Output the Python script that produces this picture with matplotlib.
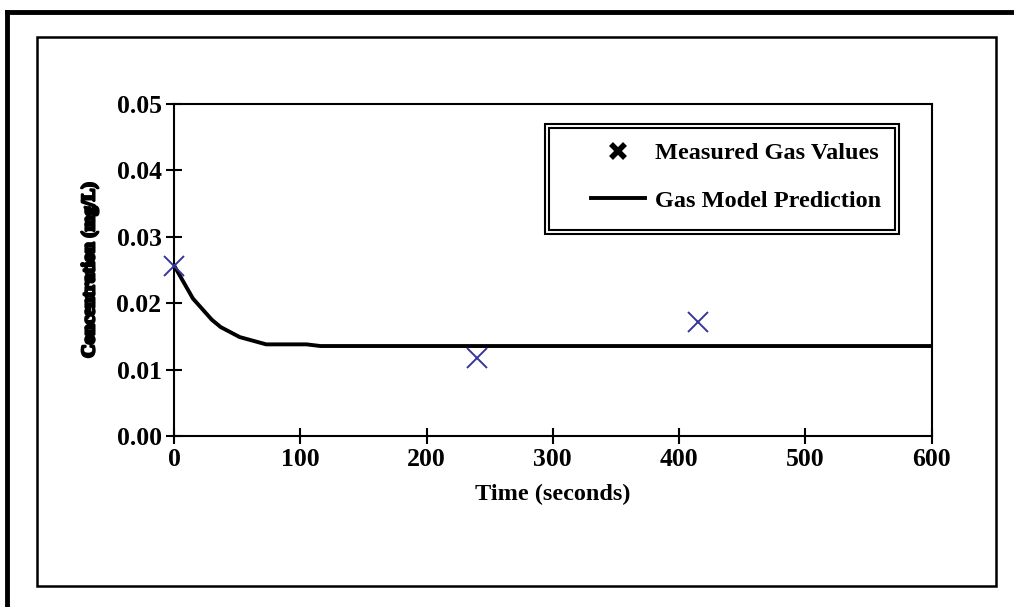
import matplotlib.pyplot as plt
import matplotlib.patheffects as pe
from matplotlib.lines import Line2D
from matplotlib.patches import Rectangle

# measured gas concentrations
meas_t = [0, 240, 415]
meas_c = [0.0256, 0.0118, 0.0172]

# gas model prediction
model_t = [0, 15, 30, 37, 52, 73, 105, 116, 600]
model_c = [0.0257, 0.0207, 0.0175, 0.0164, 0.0149, 0.0138, 0.0138, 0.01355, 0.01355]

xticks = [0, 100, 200, 300, 400, 500, 600]
yticks = [0.00, 0.01, 0.02, 0.03, 0.04, 0.05]

plt.rcParams['font.family'] = ['Liberation Serif', 'DejaVu Serif']
plt.rcParams['font.weight'] = 'bold'

W, H = 1014, 607
fig = plt.figure(figsize=(W / 100, H / 100), dpi=100)
ax = fig.add_axes([174 / W, (H - 436) / H, (931.5 - 174) / W, (436 - 104) / H])

ax.plot(model_t, model_c, color='black', lw=2.8, solid_joinstyle='round',
        label='Gas Model Prediction', zorder=2)
ax.plot(meas_t, meas_c, ls='none', marker='x', ms=14, mew=1.4,
        color='#363699', zorder=3, clip_on=False)

ax.set_xlim(0, 600)
ax.set_ylim(0, 0.05)
ax.set_xticks(xticks)
ax.set_yticks(yticks)
ax.set_yticklabels([f'{v:.2f}' for v in yticks])
ax.tick_params(direction='inout', length=12, width=1.5, labelsize=18.5, pad=3)
for s in ax.spines.values():
    s.set_linewidth(1.5)

ax.set_xlabel('Time (seconds)', fontsize=17.5, fontweight='bold', labelpad=9)
ax.set_ylabel('Concentration (mg/L)', fontsize=13.5, fontweight='bold', labelpad=13,
              path_effects=[pe.withStroke(linewidth=1.8, foreground='black')])

handles = [Line2D([], [], ls='none', marker='x', ms=10, mew=4, color='black'),
           Line2D([], [], color='black', lw=2.8)]
leg = ax.legend(handles, ['Measured Gas Values', 'Gas Model Prediction'],
                loc='upper right', bbox_to_anchor=(0.957, 0.94), fancybox=False,
                framealpha=0, prop={'size': 17.5, 'weight': 'bold'},
                handlelength=2.2, handletextpad=0.4, borderpad=0.75, labelspacing=1.05,
                borderaxespad=0)
leg.get_frame().set_linewidth(0)

# double border round the legend, a bit wider on the left
fig.canvas.draw()
bb = leg.get_window_extent()
x0, x1 = bb.x0 - 28, bb.x1
y0, y1 = bb.y0 - 4, bb.y1
for off in (0, 4):
    fig.add_artist(Rectangle(((x0 + off) / W, (y0 + off) / H),
                             (x1 - x0 - 2 * off) / W, (y1 - y0 - 2 * off) / H,
                             transform=fig.transFigure, fill=False, lw=1.5, ec='black'))

# chart area border and outer frame
fig.add_artist(Rectangle((37 / W, (H - 586) / H), (996 - 37) / W, (586 - 37) / H,
                         transform=fig.transFigure, fill=False, lw=1.8, ec='black'))
fig.add_artist(Line2D([7 / W, 1], [(H - 12) / H] * 2, transform=fig.transFigure,
                      color='black', lw=3.5, solid_capstyle='projecting'))
fig.add_artist(Line2D([7 / W] * 2, [0, (H - 12) / H], transform=fig.transFigure,
                      color='black', lw=3.5, solid_capstyle='projecting'))

fig.savefig('out.png', dpi=100)
